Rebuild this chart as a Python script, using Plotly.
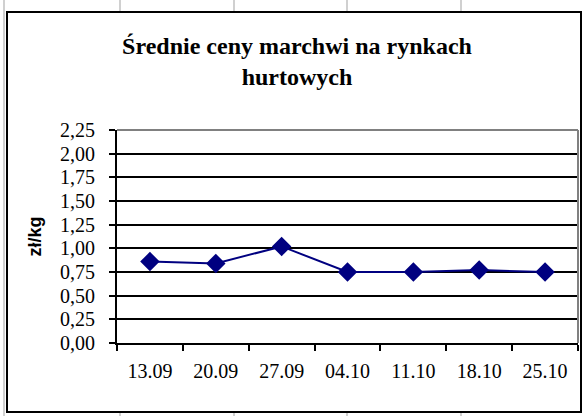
import plotly.graph_objects as go

dates = ["13.09", "20.09", "27.09", "04.10", "11.10", "18.10", "25.10"]
prices = [0.86, 0.84, 1.02, 0.75, 0.75, 0.77, 0.75]
y_ticks = [0, 0.25, 0.5, 0.75, 1.0, 1.25, 1.5, 1.75, 2.0, 2.25]

SERIF = "Liberation Serif"
SANS = "Liberation Sans"

fig = go.Figure()
fig.add_trace(go.Scatter(
    x=dates, y=prices, mode="lines+markers",
    line=dict(color="#000080", width=2),
    marker=dict(symbol="diamond", size=15, color="#000080"),
    showlegend=False,
))

W, H = 588, 416
l, r, t, b = 117, 10, 130, 73

fig.update_layout(
    width=W, height=H,
    margin=dict(l=l, r=r, t=t, b=b),
    paper_bgcolor="white", plot_bgcolor="white",
    separators=", ",
    title=dict(
        text="Średnie ceny marchwi na rynkach<br>hurtowych",
        x=297 / W, xref="container", xanchor="center",
        y=1 - 54 / H, yref="container", yanchor="middle",
        font=dict(family=SERIF, size=24, color="black", weight=700),
    ),
    xaxis=dict(
        type="category", tickson="boundaries",
        ticks="outside", ticklen=6, tickwidth=2, tickcolor="black",
        showline=True, linecolor="black", linewidth=2,
        showgrid=False, ticklabelstandoff=9,
        tickfont=dict(family=SERIF, size=20, color="black"),
        range=[-0.5, 6.5],
    ),
    yaxis=dict(
        range=[0, 2.25], tickvals=y_ticks, tickformat=".2f",
        ticks="outside", ticklen=6, tickwidth=2, tickcolor="black",
        showline=True, linecolor="black", linewidth=2,
        showgrid=True, gridcolor="black", gridwidth=1.5,
        zeroline=False, ticklabelstandoff=10,
        tickfont=dict(family=SERIF, size=20, color="black"),
        title=dict(text="<b>zł/kg</b>", standoff=14,
                   font=dict(family=SANS, size=18, color="black")),
    ),
)

# plot area border (top and right), gray
fig.add_shape(type="line", xref="paper", yref="paper", x0=0, x1=1, y0=1, y1=1,
              line=dict(color="#808080", width=2))
fig.add_shape(type="line", xref="paper", yref="paper", x0=1, x1=1, y0=0, y1=1,
              line=dict(color="#808080", width=2))

pw, ph = W - l - r, H - t - b
def px(x):
    return (x - l) / pw
def py(y):
    return (H - b - y) / ph

# outer chart border
fig.add_shape(type="rect", xref="paper", yref="paper",
              x0=px(7), x1=px(581), y0=py(412), y1=py(12),
              line=dict(color="black", width=2), layer="below")

# spreadsheet cell lines outside chart
for xv in [120, 234, 347, 461]:
    fig.add_shape(type="line", xref="paper", yref="paper",
                  x0=px(xv), x1=px(xv), y0=py(0), y1=py(11),
                  line=dict(color="#d0d0d0", width=2))
    fig.add_shape(type="line", xref="paper", yref="paper",
                  x0=px(xv), x1=px(xv), y0=py(413), y1=py(416),
                  line=dict(color="#d0d0d0", width=2))
fig.add_shape(type="line", xref="paper", yref="paper",
              x0=px(4), x1=px(4), y0=py(0), y1=py(416),
              line=dict(color="#d0d0d0", width=2))

fig.write_html("out.html", config={"displayModeBar": False},
               post_script="document.body.style.margin='0';document.body.style.overflow='hidden';")
